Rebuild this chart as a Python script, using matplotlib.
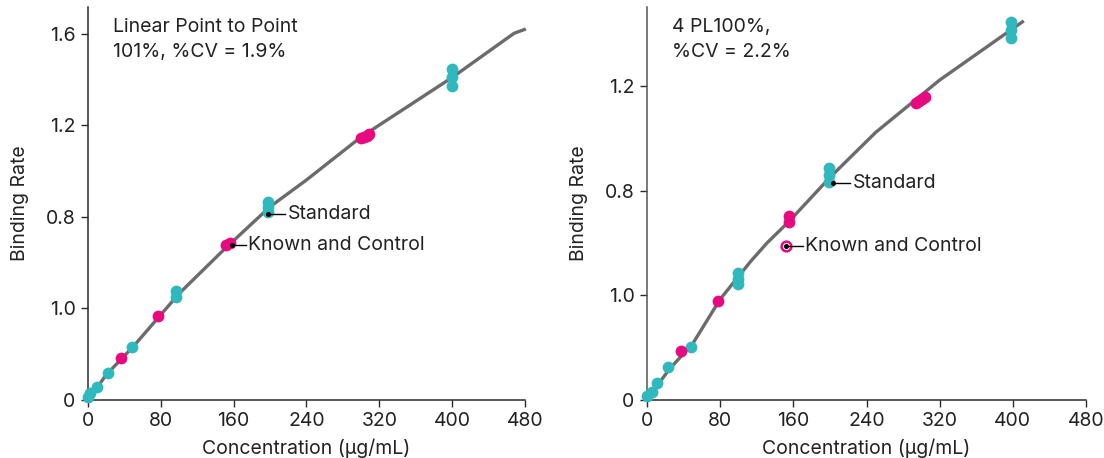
import numpy as np
import matplotlib.pyplot as plt

plt.rcParams['font.family'] = ['Inter', 'DejaVu Sans']

# left panel - linear point to point
lin_curve_x = [0, 10, 20, 50, 100, 150, 200, 240, 300, 400, 468, 481]
lin_curve_y = [0, 0.055, 0.11, 0.235, 0.465, 0.66, 0.845, 0.962, 1.15, 1.41, 1.603, 1.622]
lin_std_x = [0, 2, 9.5, 21.6, 48, 96.7, 96.7, 198, 198, 198, 399.6, 399.6, 399.6]
lin_std_y = [0.013, 0.03, 0.058, 0.117, 0.233, 0.478, 0.449, 0.867, 0.845, 0.82, 1.446, 1.41, 1.373]
lin_kc_x = [36.3, 76.5, 152, 156, 300, 303, 306, 309]
lin_kc_y = [0.185, 0.367, 0.678, 0.688, 1.144, 1.149, 1.155, 1.161]

# right panel - 4PL
pl_curve_x = [0, 10, 25, 50, 80, 113, 131, 155, 200, 250, 320, 412]
pl_curve_y = [0, 0.05, 0.12, 0.215, 0.385, 0.528, 0.599, 0.681, 0.85, 1.022, 1.222, 1.448]
pl_std_x = [0, 5, 11, 23.4, 48.2, 100, 100, 100, 198.7, 198.7, 198.7, 397.8, 397.8, 397.8]
pl_std_y = [0.015, 0.032, 0.064, 0.127, 0.204, 0.484, 0.461, 0.442, 0.885, 0.86, 0.834, 1.445, 1.413, 1.382]
pl_kc_x = [37, 77.5, 155, 155, 293.7, 297, 301, 304]
pl_kc_y = [0.187, 0.378, 0.703, 0.681, 1.136, 1.142, 1.15, 1.156]

x_ticks = [0, 80, 160, 240, 320, 400, 480]
y_ticks = [0, 0.4, 0.8, 1.2, 1.6]
y_tick_labels = ['0', '1.0', '0.8', '1.2', '1.6']

CYAN = '#2fb8bd'
MAGENTA = '#e8087f'
LINE = '#6b6b6b'
FS = 14

fig = plt.figure(figsize=(11.04, 4.58), dpi=100)
ax1 = fig.add_axes([88/1104, 58/458, 437/1104, 393/458])
ax2 = fig.add_axes([647/1104, 58/458, 439/1104, 393/458])

panels = [
    (ax1, lin_curve_x, lin_curve_y, lin_std_x, lin_std_y, lin_kc_x, lin_kc_y, 1.718,
     'Linear Point to Point\n101%, %CV = 1.9%'),
    (ax2, pl_curve_x, pl_curve_y, pl_std_x, pl_std_y, pl_kc_x, pl_kc_y, 1.501,
     '4 PL100%,\n%CV = 2.2%'),
]

for ax, cx, cy, sx, sy, kx, ky, ytop, title in panels:
    ax.plot(cx, cy, color=LINE, lw=2.4, solid_capstyle='butt', zorder=2, clip_on=False)
    ax.scatter(sx, sy, s=72, color=CYAN, zorder=3, clip_on=False, linewidths=0)
    ax.scatter(kx, ky, s=72, color=MAGENTA, zorder=3, clip_on=False, linewidths=0)
    ax.set_xlim(0, 480)
    ax.set_ylim(0, ytop)
    ax.set_xticks(x_ticks)
    yt = [t for t in y_ticks if t <= ytop]
    ax.set_yticks(yt)
    ax.set_yticklabels(y_tick_labels[:len(yt)])
    for s in ['top', 'right']:
        ax.spines[s].set_visible(False)
    for s in ['left', 'bottom']:
        ax.spines[s].set_color('#2a2a2a')
        ax.spines[s].set_linewidth(1.1)
    ax.tick_params(labelsize=FS, length=5, width=1, color='#2a2a2a', labelcolor='#222222', pad=4)
    ax.set_xlabel('Concentration (μg/mL)', fontsize=FS, color='#222222', labelpad=6)
    ax.set_ylabel('Binding Rate', fontsize=FS, color='#222222', labelpad=12)
    ax.text(0.058, 0.972, title, transform=ax.transAxes, fontsize=FS, va='top',
            ha='left', color='#222222', linespacing=1.5)

ax2.spines['left'].set_color('#555555')

# annotations, left panel
ax1.plot([198], [0.812], 'o', color='black', ms=2.6, zorder=5)
ax1.plot([198, 216], [0.812, 0.812], color='black', lw=1, zorder=5)
ax1.text(219, 0.812, 'Standard', fontsize=FS, va='center', color='#222222')
ax1.plot([158], [0.678], 'o', color='black', ms=2.6, zorder=5)
ax1.plot([158, 174], [0.678, 0.678], color='black', lw=1, zorder=5)
ax1.text(176, 0.678, 'Known and Control', fontsize=FS, va='center', color='#222222')

# annotations, right panel
ax2.plot([203.5], [0.828], 'o', color='black', ms=2.6, zorder=5)
ax2.plot([203.5, 222], [0.828, 0.828], color='black', lw=1, zorder=5)
ax2.text(224.5, 0.828, 'Standard', fontsize=FS, va='center', color='#222222')
ax2.plot([152], [0.588], 'o', ms=7, mfc='white', mec=MAGENTA, mew=1.8, zorder=5)
ax2.plot([152], [0.588], 'o', color='black', ms=2.6, zorder=6)
ax2.plot([152, 171], [0.588, 0.588], color='black', lw=1, zorder=5)
ax2.text(173, 0.588, 'Known and Control', fontsize=FS, va='center', color='#222222')

fig.savefig('out.png', dpi=100)
